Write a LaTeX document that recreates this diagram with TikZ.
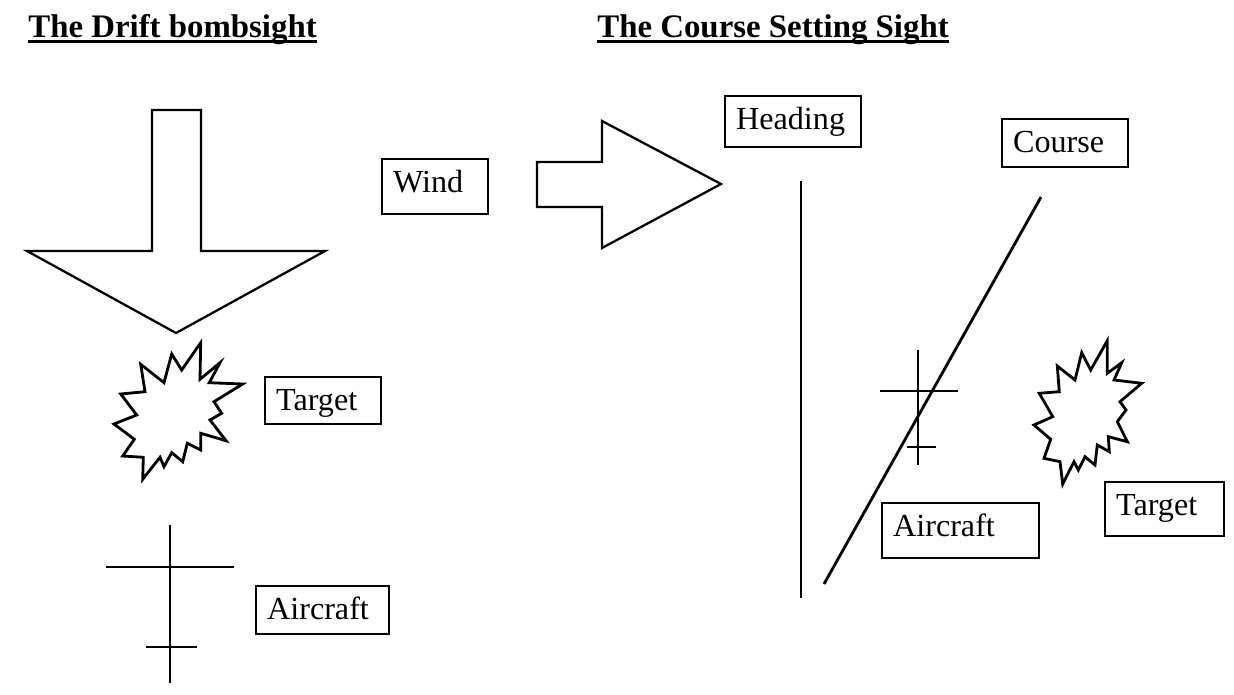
\documentclass[tikz,border=0pt]{standalone}
\usepackage{fontspec}
\setmainfont{Liberation Serif}
\usetikzlibrary{positioning}

\begin{document}
\begin{tikzpicture}[x=0.02cm,y=-0.02cm,
  labelbox/.style={draw,line width=1.3pt,anchor=north west,align=left,inner xsep=0.22cm,inner ysep=0pt,
    text height=0.66cm,font=\fontsize{18.3}{21}\selectfont},
  sighttitle/.style={anchor=base west,inner sep=0pt,font=\fontsize{18.7}{22}\selectfont\bfseries},
  outline/.style={line width=1.3pt,line join=miter},
  burst/.style={line width=1.6pt,line join=miter},
  cross/.style={line width=1.2pt}]
\useasboundingbox (0,0) rectangle (1234,695);

% titles
\node[sighttitle] (drift) at (28,37.3) {The Drift bombsight};
\draw[line width=1.8pt] ([yshift=-2.5pt]drift.base west) -- ([yshift=-2.5pt]drift.base east);
\node[sighttitle] (course) at (597,37.3) {The Course Setting Sight};
\draw[line width=1.8pt] ([yshift=-2.5pt]course.base west) -- ([yshift=-2.5pt]course.base east);

% wind arrows
\draw[outline] (152,110) -- (201,110) -- (201,251) -- (325,251) -- (176,333)
  -- (27,251) -- (152,251) -- cycle;
\draw[outline] (537,162) -- (602,162) -- (602,121) -- (721,184) -- (602,248)
  -- (602,207) -- (537,207) -- cycle;
\node[labelbox,text width=1.68cm,text depth=0.44cm] (wind) at (381,158) {Wind};

% targets
\draw[burst] (200.7,342.7) -- (181.7,370) -- (171.7,354) -- (164,382.7) -- (140.7,364.3)
  -- (145,391.7) -- (120.7,394) -- (136.7,415) -- (114,424) -- (134.3,439.3)
  -- (122.7,456) -- (143.3,457.3) -- (142.7,479.3) -- (160,457.3) -- (164,466.7)
  -- (171.7,452.7) -- (182.7,461.7) -- (187.3,443.3) -- (200.7,450) -- (200.7,433.3)
  -- (226,440.7) -- (210,420) -- (221.7,413.3) -- (214,401.7) -- (242.7,384)
  -- (209.3,382.7) -- (220,362.7) -- (200,379.3) -- cycle;
\node[labelbox,text width=1.88cm,text depth=0.28cm] (targetL) at (264,376) {Target};

\draw[burst] (1107.3,340.7) -- (1090.7,370) -- (1081.7,352.7) -- (1075,380) -- (1057.3,366)
  -- (1059.3,391.7) -- (1039.3,393.3) -- (1052.7,416.7) -- (1034,425) -- (1050.7,439.3)
  -- (1044,458.3) -- (1060,461.7) -- (1062.7,484) -- (1074,461.7) -- (1078.3,470)
  -- (1085,456.7) -- (1095,465) -- (1097.3,445) -- (1109.3,451.7) -- (1108.3,436.7)
  -- (1127.3,441.7) -- (1117.3,421.7) -- (1126,410) -- (1120,401.7) -- (1141.7,383.3)
  -- (1114,380) -- (1121.7,362.7) -- (1107.3,373.3) -- cycle;
\node[labelbox,text width=1.94cm,text depth=0.42cm] (targetR) at (1104,481) {Target};

% aircraft
\draw[cross] (170,525) -- (170,683);
\draw[cross] (106,567) -- (234,567);
\draw[cross] (146,647) -- (197,647);
\node[labelbox,text width=2.22cm,text depth=0.30cm] (aircraftL) at (255,585) {Aircraft};

\draw[cross] (918,350) -- (918,465);
\draw[cross] (880,391) -- (958,391);
\draw[cross] (907,447) -- (936,447);
\node[labelbox,text width=2.70cm,text depth=0.44cm] (aircraftR) at (881,502) {Aircraft};

% heading and course
\draw[cross] (801,181) -- (801,598);
\node[labelbox,text width=2.28cm,text depth=0.36cm] (heading) at (724,95) {Heading};
\draw[line width=1.6pt] (1041,197) -- (824,584);
\node[labelbox,text width=2.08cm,text depth=0.30cm] (coursebox) at (1001,118) {Course};
\end{tikzpicture}
\end{document}
